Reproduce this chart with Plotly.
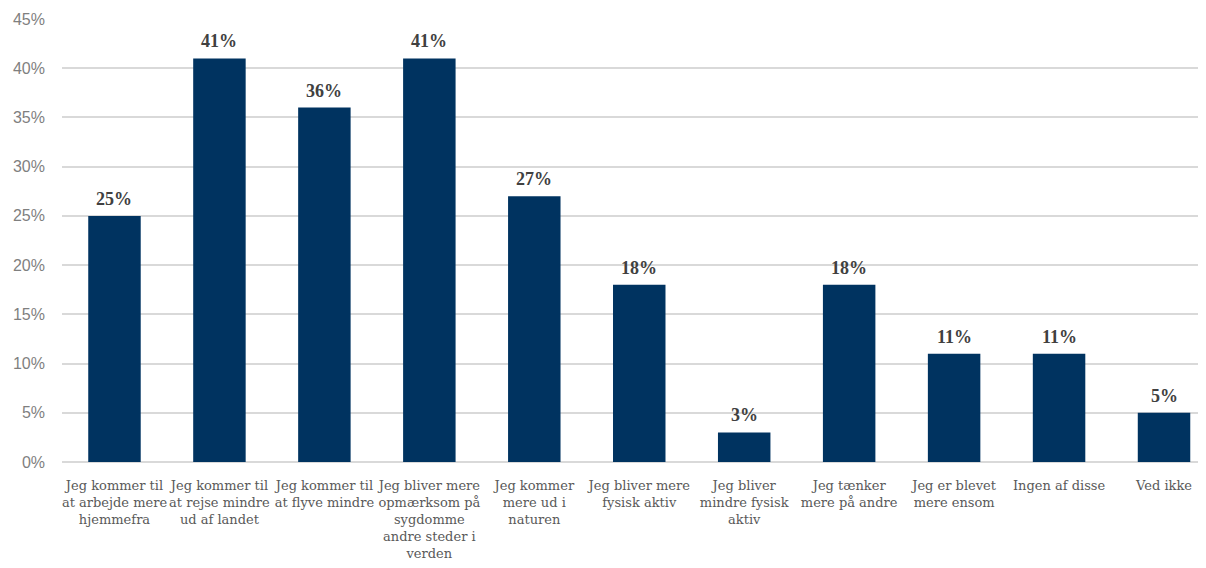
import plotly.graph_objects as go

categories = [
    "Jeg kommer til<br>at arbejde mere<br>hjemmefra",
    "Jeg kommer til<br>at rejse mindre<br>ud af landet",
    "Jeg kommer til<br>at flyve mindre",
    "Jeg bliver mere<br>opmærksom på<br>sygdomme<br>andre steder i<br>verden",
    "Jeg kommer<br>mere ud i<br>naturen",
    "Jeg bliver mere<br>fysisk aktiv",
    "Jeg bliver<br>mindre fysisk<br>aktiv",
    "Jeg tænker<br>mere på andre",
    "Jeg er blevet<br>mere ensom",
    "Ingen af disse",
    "Ved ikke",
]
values = [25, 41, 36, 41, 27, 18, 3, 18, 11, 11, 5]
y_ticks = [0, 5, 10, 15, 20, 25, 30, 35, 40, 45]
y_tick_labels = [f"{v}%" for v in y_ticks]

fig = go.Figure()
fig.add_trace(go.Bar(
    x=list(range(len(categories))),
    y=values,
    marker=dict(color="#003360", line=dict(width=0)),
    width=0.5,
    hoverinfo="skip",
))

for i, v in enumerate(values):
    fig.add_annotation(
        x=i, y=v, text=f"<b>{v}%</b>", showarrow=False,
        yanchor="bottom", yshift=5,
        font=dict(family="Liberation Serif", size=18, color="#404040"),
    )

fig.update_layout(
    width=1198, height=560,
    margin=dict(l=54, r=0, t=11, b=106, autoexpand=False),
    paper_bgcolor="white", plot_bgcolor="white",
    showlegend=False,
    xaxis=dict(
        tickmode="array",
        tickvals=list(range(len(categories))),
        ticktext=categories,
        range=[-0.5, 10.4],
        automargin=False,
        tickangle=0,
        showgrid=False, zeroline=False, showline=False,
        ticks="", ticklabelstandoff=14,
        tickfont=dict(family="DejaVu Serif", size=13, color="#595959"),
        fixedrange=True,
    ),
    yaxis=dict(
        range=[0, 45],
        automargin=False,
        tickmode="array", tickvals=y_ticks, ticktext=y_tick_labels,
        showgrid=True, gridcolor="#d9d9d9", gridwidth=1.5,
        zeroline=True, zerolinecolor="#d9d9d9", zerolinewidth=1.5,
        showline=False, ticks="", ticklabelstandoff=16,
        tickfont=dict(family="Liberation Sans", size=16, color="#7f7f7f"),
        fixedrange=True,
    ),
)

fig.write_html("out.html")
